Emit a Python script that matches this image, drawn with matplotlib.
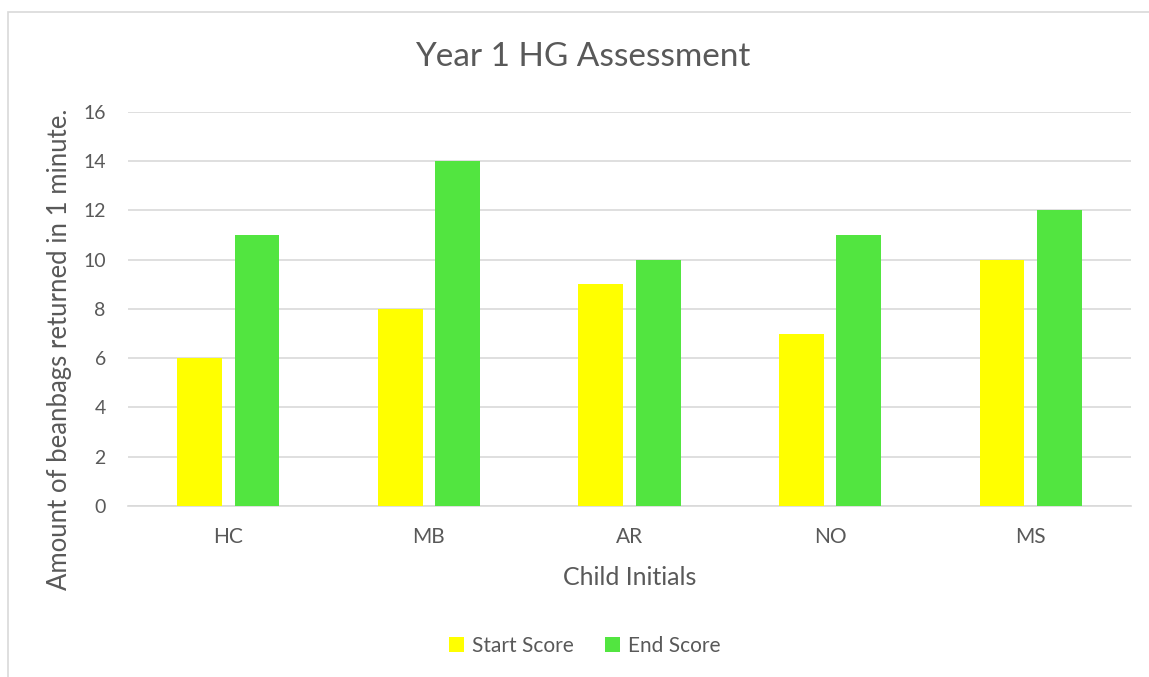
import numpy as np
import matplotlib.pyplot as plt
from matplotlib.patches import Rectangle

children = ["HC", "MB", "AR", "NO", "MS"]
start_score = [6, 8, 9, 7, 10]
end_score = [11, 14, 10, 11, 12]

plt.rcParams['font.family'] = ['Lato', 'DejaVu Sans']
txt = "#595959"

fig = plt.figure(figsize=(11.49, 6.77), dpi=100)
ax = fig.add_axes([0.1114, 0.2526, 0.8729, 0.582])

# chart border (left and top visible)
fig.patches.append(Rectangle((8 / 1149, -0.1), 1.2, (677 - 12) / 677 + 0.1,
                             transform=fig.transFigure, fill=False,
                             edgecolor="#d9d9d9", linewidth=1.2))

x = np.arange(len(children))
w = 0.224
ax.bar(x - 0.143, start_score, w, color="#ffff00", label="Start Score", zorder=3)
ax.bar(x + 0.143, end_score, w, color="#52e540", label="End Score", zorder=3)

ax.set_xlim(-0.5, len(children) - 0.5)
ax.set_ylim(0, 16)
ax.set_yticks(range(0, 17, 2))
ax.set_xticks(x)
ax.set_xticklabels(children)
ax.grid(axis="y", color="#d9d9d9", linewidth=1.2, zorder=0)
for s in ["top", "right", "left"]:
    ax.spines[s].set_visible(False)
ax.spines["bottom"].set_color("#d9d9d9")
ax.spines["bottom"].set_linewidth(1.2)
ax.tick_params(length=0, colors=txt)
ax.tick_params(axis="y", labelsize=14, pad=16)
ax.tick_params(axis="x", labelsize=15, pad=15)

fig.suptitle("Year 1 HG Assessment", fontsize=24, color=txt,
             x=583 / 1149, y=(677 - 57) / 677, va="center")
ax.set_xlabel("Child Initials", fontsize=18, color=txt, labelpad=14)
ax.set_ylabel("Amount of beanbags returned in 1 minute.", fontsize=18.5, color=txt)
ax.yaxis.set_label_coords(-0.056, 0.398)

fig.legend(loc="center", bbox_to_anchor=(585 / 1149, (677 - 646) / 677), ncol=2,
           frameon=False, fontsize=15, labelcolor=txt, handlelength=0.7,
           handleheight=0.7, columnspacing=1.5, handletextpad=0.4)

fig.savefig("out.png", dpi=100)
